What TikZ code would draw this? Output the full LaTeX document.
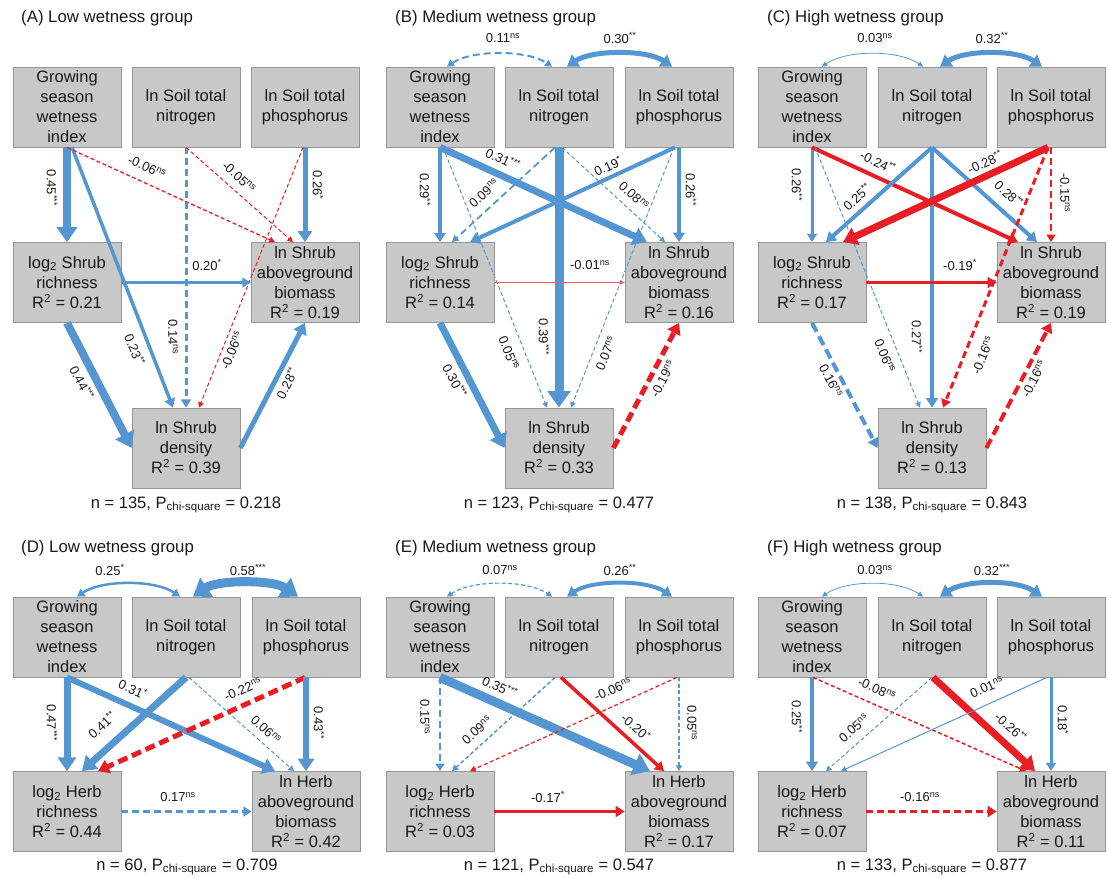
\documentclass[tikz,border=0pt]{standalone}
\usepackage{fontspec}
\setmainfont{Liberation Sans}
\usetikzlibrary{arrows.meta,calc}
\definecolor{cblue}{RGB}{84,150,210}
\definecolor{cred}{RGB}{232,30,36}
\definecolor{boxfill}{RGB}{200,200,200}
\definecolor{boxline}{RGB}{150,150,150}
\newcounter{lbc}
\newcommand\lbl[4]{\stepcounter{lbc}\node[lab,rotate=#3] (lb\arabic{lbc}) at (#1,#2) {#4};}
\newcommand\nsx{\textsuperscript{ns}}
\newcommand\sg[1]{\textsuperscript{#1}}
\tikzset{
 bx/.style={draw=boxline, fill=boxfill, line width=0.8pt, minimum width=108pt, minimum height=80pt, inner sep=0pt, align=center, font=\fontsize{16.5}{20}\selectfont, text=black!90},
 lab/.style={font=\fontsize{13}{15}\selectfont, inner sep=0pt, text=black!90},
 ttl/.style={font=\fontsize{16.8}{20}\selectfont, anchor=west, inner sep=0pt, text=black!90},
 ftr/.style={font=\fontsize{16.5}{20}\selectfont, inner sep=0pt, text=black!90},
 blu/.style={draw=cblue, line width=#1pt},
 rdd/.style={draw=cred, line width=#1pt},
 arr/.style={-{Triangle[length=4pt 1.4, width=3.5pt 2.1]}},
 arr2/.style={{Triangle[length=4pt 1.4, width=3.5pt 2.1]}-{Triangle[length=4pt 1.4, width=3.5pt 2.1]}},
 d1/.style={dash pattern=on 4pt off 2.5pt},
 d2/.style={dash pattern=on 7pt off 4pt},
 d3/.style={dash pattern=on 10pt off 5pt},
}
\begin{document}
\begin{tikzpicture}[x=1pt,y=-1pt]
\useasboundingbox (0,0) rectangle (1108,878);
% ---------- titles ----------
\node[ttl] (ta) at (21,18) {(A) Low wetness group};
\node[ttl] (tb) at (395,18) {(B) Medium wetness group};
\node[ttl] (tc) at (767,18) {(C) High wetness group};
\node[ttl] (td) at (21,548) {(D) Low wetness group};
\node[ttl] (te) at (395,548) {(E) Medium wetness group};
\node[ttl] (tf) at (767,548) {(F) High wetness group};
% ---------- footers ----------
\node[ftr] (fa) at (186,505) {n = 135, P\textsubscript{chi-square} = 0.218};
\node[ftr] (fb) at (559,505) {n = 123, P\textsubscript{chi-square} = 0.477};
\node[ftr] (fc) at (932,505) {n = 138, P\textsubscript{chi-square} = 0.843};
\node[ftr] (fd) at (187,867) {n = 60, P\textsubscript{chi-square} = 0.709};
\node[ftr] (fe) at (559,867) {n = 121, P\textsubscript{chi-square} = 0.547};
\node[ftr] (ff) at (932,867) {n = 133, P\textsubscript{chi-square} = 0.877};
% ---------- boxes A ----------
\node[bx] (aG) at (67,107) {Growing\\season\\wetness\\index};
\node[bx] (aN) at (186,107) {ln Soil total\\nitrogen};
\node[bx] (aP) at (305,107) {ln Soil total\\phosphorus};
\node[bx] (aR) at (67,282.5) {log\textsubscript{2} Shrub\\richness\\R\textsuperscript{2} = 0.21};
\node[bx] (aB) at (305,282.5) {ln Shrub\\aboveground\\biomass\\R\textsuperscript{2} = 0.19};
\node[bx] (aD) at (186,448) {ln Shrub\\density\\R\textsuperscript{2} = 0.39};
% ---------- boxes B ----------
\node[bx] (bG) at (440,107) {Growing\\season\\wetness\\index};
\node[bx] (bN) at (559,107) {ln Soil total\\nitrogen};
\node[bx] (bP) at (679,107) {ln Soil total\\phosphorus};
\node[bx] (bR) at (440,282.5) {log\textsubscript{2} Shrub\\richness\\R\textsuperscript{2} = 0.14};
\node[bx] (bB) at (679,282.5) {ln Shrub\\aboveground\\biomass\\R\textsuperscript{2} = 0.16};
\node[bx] (bD) at (559,448) {ln Shrub\\density\\R\textsuperscript{2} = 0.33};
% ---------- boxes C ----------
\node[bx] (cG) at (812,107) {Growing\\season\\wetness\\index};
\node[bx] (cN) at (932,107) {ln Soil total\\nitrogen};
\node[bx] (cP) at (1051,107) {ln Soil total\\phosphorus};
\node[bx] (cR) at (812,282.5) {log\textsubscript{2} Shrub\\richness\\R\textsuperscript{2} = 0.17};
\node[bx] (cB) at (1051,282.5) {ln Shrub\\aboveground\\biomass\\R\textsuperscript{2} = 0.19};
\node[bx] (cD) at (932,448) {ln Shrub\\density\\R\textsuperscript{2} = 0.13};
% ---------- boxes D ----------
\node[bx] (dG) at (67,637) {Growing\\season\\wetness\\index};
\node[bx] (dN) at (186,637) {ln Soil total\\nitrogen};
\node[bx] (dP) at (306,637) {ln Soil total\\phosphorus};
\node[bx] (dR) at (67,811.5) {log\textsubscript{2} Herb\\richness\\R\textsuperscript{2} = 0.44};
\node[bx] (dB) at (306,811.5) {ln Herb\\aboveground\\biomass\\R\textsuperscript{2} = 0.42};
% ---------- boxes E ----------
\node[bx] (eG) at (440,637) {Growing\\season\\wetness\\index};
\node[bx] (eN) at (559,637) {ln Soil total\\nitrogen};
\node[bx] (eP) at (679,637) {ln Soil total\\phosphorus};
\node[bx] (eR) at (440,811.5) {log\textsubscript{2} Herb\\richness\\R\textsuperscript{2} = 0.03};
\node[bx] (eB) at (679,811.5) {ln Herb\\aboveground\\biomass\\R\textsuperscript{2} = 0.17};
% ---------- boxes F ----------
\node[bx] (fG) at (812,637) {Growing\\season\\wetness\\index};
\node[bx] (fN) at (932,637) {ln Soil total\\nitrogen};
\node[bx] (fP) at (1051,637) {ln Soil total\\phosphorus};
\node[bx] (fR) at (812,811.5) {log\textsubscript{2} Herb\\richness\\R\textsuperscript{2} = 0.07};
\node[bx] (fB) at (1051,811.5) {ln Herb\\aboveground\\biomass\\R\textsuperscript{2} = 0.11};
% =========== Panel A edges ===========
\draw[blu=8,arr] (aG.south) -- (aR.north);
\draw[blu=3.5,arr] ([xshift=5pt]aG.south) -- ([xshift=-13pt]aD.north);
\draw[rdd=1.3,d1,arr] (aG.south) -- ([xshift=-30pt]aB.north);
\draw[blu=3,d2,arr] (aN.south) -- (aD.north);
\draw[rdd=1,d1,arr] (aN.south) -- ([xshift=-12pt]aB.north);
\draw[blu=5,arr] (aP.south) -- (aB.north);
\draw[rdd=1,d1,arr] ([xshift=-2pt]aP.south) -- ([xshift=13pt]aD.north);
\draw[blu=3,arr] (aR.east) -- (aB.west);
\draw[blu=8,arr] (aR.south) -- (aD.west);
\draw[blu=5,arr] (aD.east) -- (aB.south);
\lbl{52}{188}{-90}{0.45\sg{***}}
\lbl{135}{350}{-68}{0.23\sg{**}}
\lbl{147}{167}{-24}{-0.06\nsx}
\lbl{173}{337}{-90}{0.14\nsx}
\lbl{239}{177}{-42}{-0.05\nsx}
\lbl{318}{185}{-90}{0.26\sg{*}}
\lbl{232}{350}{68}{-0.06\nsx}
\lbl{207}{265}{0}{0.20\sg{*}}
\lbl{82}{383}{-62}{0.44\sg{***}}
\lbl{287}{383}{63}{0.28\sg{**}}
% =========== Panel B edges ===========
\draw[blu=2,d2,arr2] ([xshift=7pt]bG.north) .. controls +(25,-17) and +(-25,-17) .. ([xshift=-7pt]bN.north);
\draw[blu=5,arr2] ([xshift=8pt]bN.north) .. controls +(25,-17) and +(-25,-17) .. ([xshift=-7pt]bP.north);
\draw[blu=3.5,arr] (bG.south) -- (bR.north);
\draw[blu=7,arr] (bG.south) -- ([xshift=-32pt]bB.north);
\draw[blu=1,d1,arr] ([xshift=3pt]bG.south) -- ([xshift=-12pt]bD.north);
\draw[blu=1.8,d2,arr] ([xshift=-4pt]bN.south) -- ([xshift=12pt]bR.north);
\draw[blu=9,arr] (bN.south) -- (bD.north);
\draw[blu=1,d1,arr] ([xshift=3pt]bN.south) -- ([xshift=-14pt]bB.north);
\draw[blu=4,arr] ([xshift=-4pt]bP.south) -- ([xshift=30pt]bR.north);
\draw[blu=4,arr] (bP.south) -- (bB.north);
\draw[blu=1,d1,arr] ([xshift=-5pt]bP.south) -- ([xshift=12pt]bD.north);
\draw[draw=cred!70, line width=0.6pt, arr] (bR.east) -- (bB.west);
\draw[blu=7,arr] (bR.south) -- (bD.west);
\draw[rdd=5,d3,arr] (bD.east) -- (bB.south);
\lbl{503}{38}{0}{0.11\nsx}
\lbl{620}{38}{0}{0.30\sg{**}}
\lbl{425}{190}{-90}{0.29\sg{**}}
\lbl{503}{159}{-25}{0.31\sg{***}}
\lbl{509}{353}{-68}{0.05\nsx}
\lbl{484}{193}{43}{0.09\nsx}
\lbl{544}{337}{-90}{0.39\sg{***}}
\lbl{634}{196}{-42}{0.08\nsx}
\lbl{608}{166}{25}{0.19\sg{*}}
\lbl{691}{190}{-90}{0.26\sg{**}}
\lbl{606}{353}{68}{0.07\nsx}
\lbl{590}{265}{0}{-0.01\nsx}
\lbl{455}{381}{-62}{0.30\sg{***}}
\lbl{663}{379}{63}{-0.19\nsx}
% =========== Panel C edges ===========
\draw[blu=0.8,arr2] ([xshift=10pt]cG.north) .. controls +(25,-17) and +(-25,-17) .. ([xshift=-9pt]cN.north);
\draw[blu=5,arr2] ([xshift=8pt]cN.north) .. controls +(25,-17) and +(-25,-17) .. ([xshift=-9pt]cP.north);
\draw[blu=3,arr] (cG.south) -- (cR.north);
\draw[rdd=4,arr] (cG.south) -- ([xshift=-33pt]cB.north);
\draw[blu=1,d1,arr] ([xshift=3pt]cG.south) -- ([xshift=-12pt]cD.north);
\draw[blu=4,arr] (cN.south) -- ([xshift=14pt]cR.north);
\draw[blu=4,arr] (cN.south) -- (cD.north);
\draw[blu=4,arr] (cN.south) -- ([xshift=-14pt]cB.north);
\draw[rdd=7,arr] ([xshift=-3pt]cP.south) -- ([xshift=31pt]cR.north);
\draw[rdd=2.5,d2,arr] (cP.south) -- (cB.north);
\draw[rdd=3,d2,arr] ([xshift=-3pt]cP.south) -- ([xshift=11pt]cD.north);
\draw[rdd=3.5,arr] (cR.east) -- (cB.west);
\draw[blu=4,d3,arr] (cR.south) -- (cD.west);
\draw[rdd=4,d3,arr] (cD.east) -- (cB.south);
\lbl{875}{38}{0}{0.03\nsx}
\lbl{992}{38}{0}{0.32\sg{**}}
\lbl{797}{185}{-90}{0.26\sg{**}}
\lbl{878}{162}{-25}{-0.24\sg{**}}
\lbl{885}{356}{-68}{0.06\nsx}
\lbl{857}{197}{42}{0.25\sg{**}}
\lbl{917}{337}{-90}{0.27\sg{**}}
\lbl{1009}{194}{-42}{0.28\sg{**}}
\lbl{985}{162}{25}{-0.28\sg{**}}
\lbl{1065}{193}{-90}{-0.15\nsx}
\lbl{983}{355}{68}{-0.16\nsx}
\lbl{960}{265}{0}{-0.19\sg{*}}
\lbl{831}{381}{-62}{0.16\nsx}
\lbl{1034}{379}{63}{-0.16\nsx}
% =========== Panel D edges ===========
\draw[blu=2.5,arr2] ([xshift=10pt]dG.north) .. controls +(25,-17) and +(-25,-17) .. ([xshift=-6pt]dN.north);
\draw[blu=9,arr2] ([xshift=7pt]dN.north) .. controls +(25,-17) and +(-25,-17) .. ([xshift=-8pt]dP.north);
\draw[blu=7,arr] (dG.south) -- (dR.north);
\draw[blu=6,arr] (dG.south) -- ([xshift=-31pt]dB.north);
\draw[blu=7,arr] (dN.south) -- ([xshift=15pt]dR.north);
\draw[blu=1,d1,arr] ([xshift=3pt]dN.south) -- ([xshift=-12pt]dB.north);
\draw[rdd=5,d3,arr] ([xshift=-1pt]dP.south) -- ([xshift=31pt]dR.north);
\draw[blu=6,arr] (dP.south) -- (dB.north);
\draw[blu=3,d2,arr] (dR.east) -- (dB.west);
\lbl{110}{570}{0}{0.25\sg{*}}
\lbl{248}{570}{0}{0.58\sg{***}}
\lbl{52}{723}{-90}{0.47\sg{***}}
\lbl{133}{689}{-24}{0.31\sg{*}}
\lbl{102}{725}{42}{0.41\sg{**}}
\lbl{266}{730}{-42}{0.06\nsx}
\lbl{243}{689}{24}{-0.22\nsx}
\lbl{319}{723}{-90}{0.43\sg{**}}
\lbl{178}{797}{0}{0.17\nsx}
% =========== Panel E edges ===========
\draw[blu=1.2,d1,arr2] ([xshift=7pt]eG.north) .. controls +(25,-17) and +(-25,-17) .. ([xshift=-7pt]eN.north);
\draw[blu=4,arr2] ([xshift=8pt]eN.north) .. controls +(25,-17) and +(-25,-17) .. ([xshift=-7pt]eP.north);
\draw[blu=2.5,d2,arr] (eG.south) -- (eR.north);
\draw[blu=9,arr] (eG.south) -- ([xshift=-29pt]eB.north);
\draw[blu=1.5,d1,arr] ([xshift=-4pt]eN.south) -- ([xshift=12pt]eR.north);
\draw[rdd=3.5,arr] ([xshift=2pt]eN.south) -- ([xshift=-15pt]eB.north);
\draw[rdd=1.2,d1,arr] ([xshift=-2pt]eP.south) -- ([xshift=30pt]eR.north);
\draw[blu=1.2,d1,arr] (eP.south) -- (eB.north);
\draw[rdd=3.5,arr] (eR.east) -- (eB.west);
\lbl{500}{570}{0}{0.07\nsx}
\lbl{620}{570}{0}{0.26\sg{**}}
\lbl{425}{717}{-90}{0.15\nsx}
\lbl{500}{687}{-24}{0.35\sg{***}}
\lbl{477}{730}{42}{0.09\nsx}
\lbl{636}{727}{-42}{-0.20\sg{*}}
\lbl{613}{689}{24}{-0.06\nsx}
\lbl{692}{723}{-90}{0.05\nsx}
\lbl{548}{797}{0}{-0.17\sg{*}}
% =========== Panel F edges ===========
\draw[blu=0.8,arr2] ([xshift=10pt]fG.north) .. controls +(25,-17) and +(-25,-17) .. ([xshift=-9pt]fN.north);
\draw[blu=5,arr2] ([xshift=8pt]fN.north) .. controls +(25,-17) and +(-25,-17) .. ([xshift=-9pt]fP.north);
\draw[blu=4,arr] (fG.south) -- (fR.north);
\draw[rdd=1.5,d1,arr] ([xshift=1pt]fG.south) -- ([xshift=-25pt]fB.north);
\draw[blu=1,d1,arr] (fN.south) -- ([xshift=14pt]fR.north);
\draw[rdd=7,arr] ([xshift=1pt]fN.south) -- ([xshift=-16pt]fB.north);
\draw[blu=1,arr] ([xshift=-4pt]fP.south) -- ([xshift=29pt]fR.north);
\draw[blu=3,arr] (fP.south) -- (fB.north);
\draw[rdd=3.5,d2,arr] (fR.east) -- (fB.west);
\lbl{875}{570}{0}{0.03\nsx}
\lbl{992}{570}{0}{0.32\sg{***}}
\lbl{797}{717}{-90}{0.25\sg{**}}
\lbl{877}{689}{-24}{-0.08\nsx}
\lbl{854}{728}{42}{0.05\nsx}
\lbl{1011}{727}{-42}{-0.26\sg{**}}
\lbl{987}{687}{24}{0.01\nsx}
\lbl{1063}{720}{-90}{0.18\sg{*}}
\lbl{920}{797}{0}{-0.16\nsx}
\end{tikzpicture}
\end{document}
